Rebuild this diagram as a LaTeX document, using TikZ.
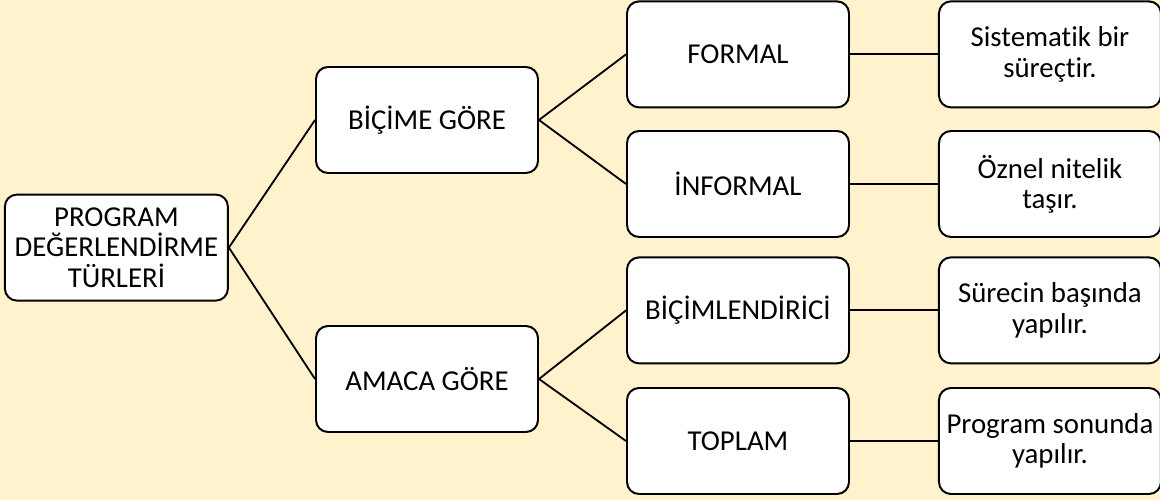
\documentclass[tikz,border=0pt]{standalone}
\usepackage{fontspec}
\setmainfont[Ligatures={NoCommon}]{Carlito}
\usepackage{tikz}
\usetikzlibrary{positioning}
\definecolor{bgcream}{RGB}{255,242,204}
\tikzstyle{typebox} = [rectangle, rounded corners=0.3cm, minimum width=5.55cm, minimum height=2.65cm, align=center, draw=black, fill=white, line width=1.4pt, font=\fontsize{20.5}{21.5}\selectfont]
\tikzstyle{link} = [line width=1.3pt, color=black]

\begin{document}
\begin{tikzpicture}
% Background
\fill[bgcream] (0,-6.25) rectangle (29,6.25);
\useasboundingbox (0,-6.25) rectangle (29,6.25);

% Tree nodes
\node (root) [typebox, minimum width=5.575cm] at (2.91,0.06) {PROGRAM\\DEĞERLENDİRME\\TÜRLERİ};
\node (bicim) [typebox] at (10.675,3.25) {BİÇİME GÖRE};
\node (amac) [typebox] at (10.675,-3.225) {AMACA GÖRE};
\node (formal) [typebox] at (18.45,4.89) {FORMAL};
\node (informal) [typebox] at (18.45,1.65) {İNFORMAL};
\node (bicimlendirici) [typebox] at (18.45,-1.51) {BİÇİMLENDİRİCİ};
\node (toplam) [typebox] at (18.45,-4.775) {TOPLAM};

% Descriptions
\node (formaltxt) [typebox, right=2.2cm of formal] {Sistematik bir\\süreçtir.};
\node (informaltxt) [typebox, right=2.2cm of informal] {Öznel nitelik\\taşır.};
\node (bicimtxt) [typebox, right=2.2cm of bicimlendirici] {Sürecin başında\\yapılır.};
\node (toplamtxt) [typebox, right=2.2cm of toplam] {Program sonunda\\yapılır.};

% Lines
\draw[link] (root.east) -- (bicim.west);
\draw[link] (root.east) -- (amac.west);
\draw[link] (bicim.east) -- (formal.west);
\draw[link] (bicim.east) -- (informal.west);
\draw[link] (amac.east) -- (bicimlendirici.west);
\draw[link] (amac.east) -- (toplam.west);
\draw[link] (formal) -- (formaltxt);
\draw[link] (informal) -- (informaltxt);
\draw[link] (bicimlendirici) -- (bicimtxt);
\draw[link] (toplam) -- (toplamtxt);
\end{tikzpicture}
\end{document}
